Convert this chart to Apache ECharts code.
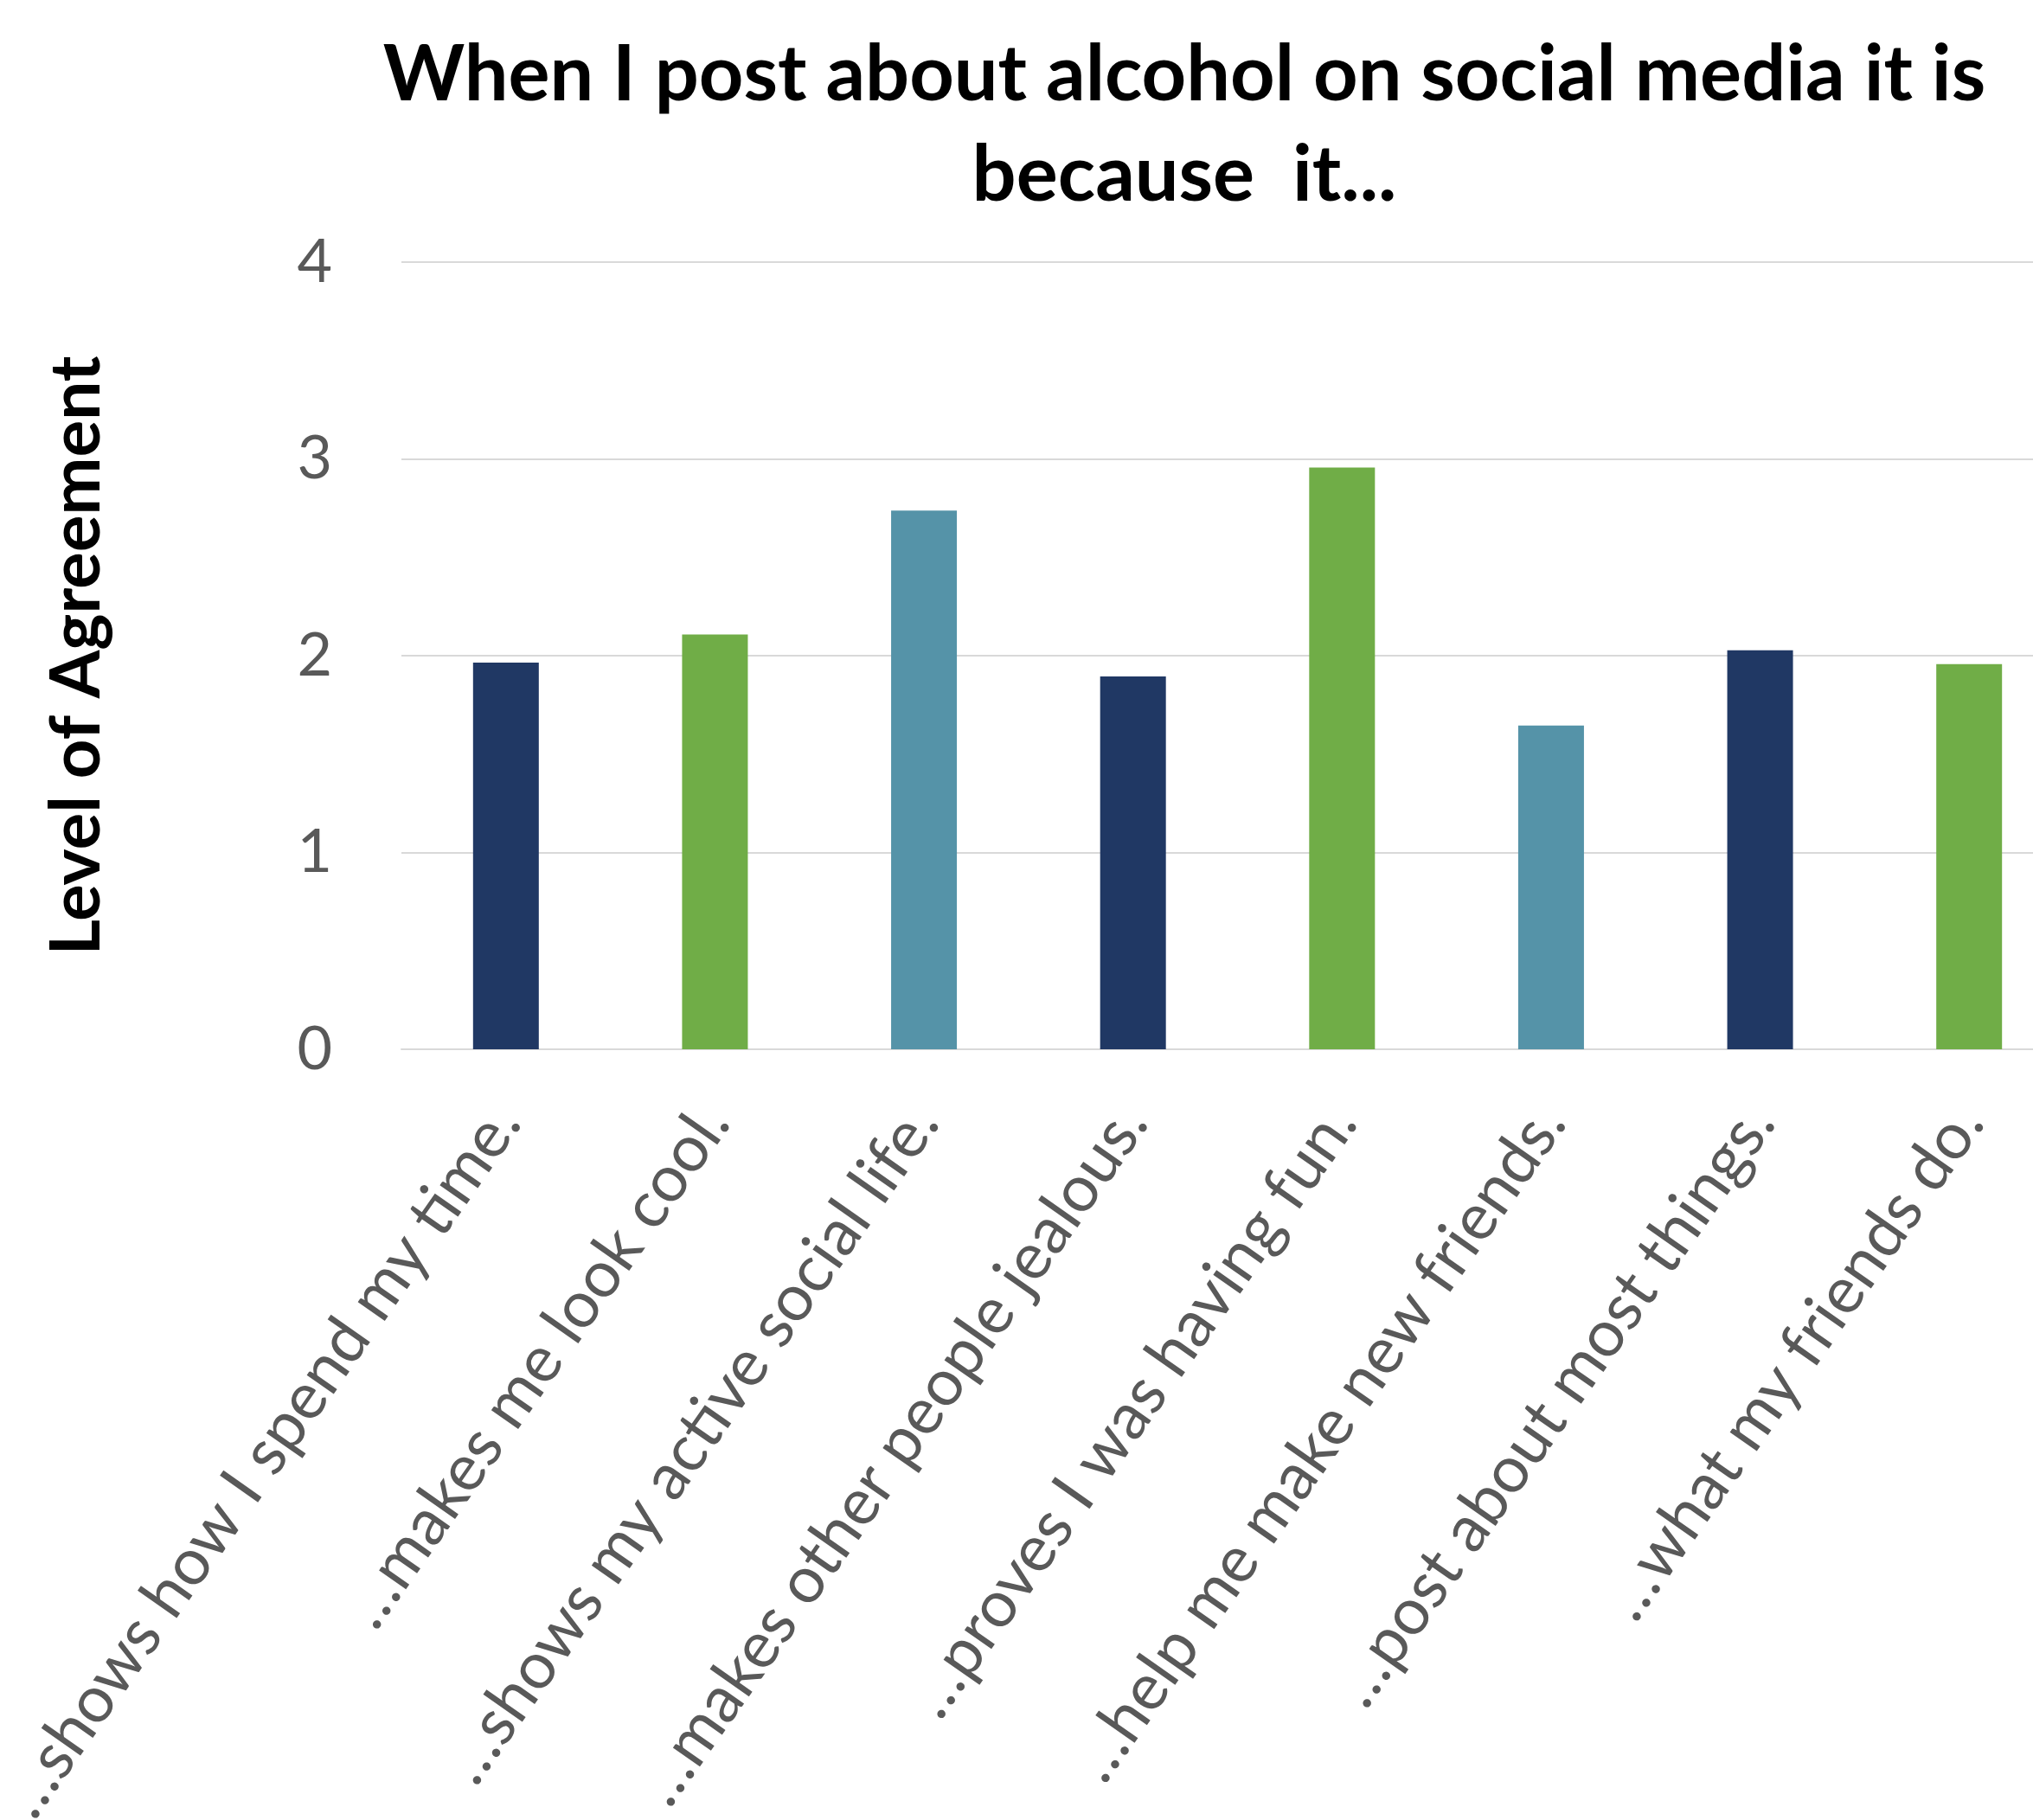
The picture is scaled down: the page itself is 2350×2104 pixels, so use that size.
<!DOCTYPE html>
<html>
<head>
<meta charset="utf-8">
<script src="https://cdn.jsdelivr.net/npm/echarts@6/dist/echarts.min.js"></script>
<style>
  html, body { margin: 0; padding: 0; background: #ffffff; }
  #chart { width: 2350px; height: 2104px; }
</style>
</head>
<body>
<div id="chart"></div>
<script>
// reasons given for posting about alcohol
var categories = [
  '\u2026shows how I spend my time.',
  '\u2026makes me look cool.',
  '\u2026shows my active social life.',
  '\u2026makes other people jealous.',
  '\u2026proves I was having fun.',
  '\u2026help me make new friends.',
  '\u2026post about most things.',
  '\u2026what my friends do.'
];
var agreement = [1.965, 2.108, 2.737, 1.895, 2.956, 1.645, 2.027, 1.957];
var yTicks = [0, 1, 2, 3, 4];

// bar colours repeat navy / green / teal
var palette = ['#203864', '#70AD47', '#5593A8'];

var chart = echarts.init(document.getElementById('chart'), null, { renderer: 'canvas' });

var option = {
  backgroundColor: '#ffffff',
  animation: false,
  textStyle: { fontFamily: 'Lato, "Open Sans", sans-serif' },
  title: {
    text: 'When I post about alcohol on social media it is\nbecause  it...',
    left: 1364,
    top: 24,
    textAlign: 'center',
    textStyle: {
      fontSize: 90,
      fontWeight: 'bold',
      color: '#000000',
      lineHeight: 116,
      fontFamily: 'Lato, sans-serif'
    }
  },
  grid: {
    left: 464,
    top: 303,
    width: 1933,
    bottom: 891,
    containLabel: false,
    outerBoundsMode: 'none'
  },
  xAxis: {
    type: 'category',
    data: categories,
    axisLine: { show: true, lineStyle: { color: '#d9d9d9', width: 2 } },
    axisTick: { show: false },
    axisLabel: {
      rotate: 55,
      margin: 72,
      interval: 0,
      fontSize: 75,
      color: '#595959'
    }
  },
  yAxis: {
    type: 'value',
    min: yTicks[0],
    max: yTicks[yTicks.length - 1],
    interval: 1,
    name: 'Level of Agreement',
    nameLocation: 'middle',
    nameGap: 335,
    nameTextStyle: {
      fontSize: 80,
      fontWeight: 'bold',
      color: '#000000'
    },
    axisLine: { show: false },
    axisTick: { show: false },
    splitLine: { lineStyle: { color: '#d9d9d9', width: 2 } },
    axisLabel: {
      fontSize: 70,
      color: '#595959',
      margin: 80
    }
  },
  series: [{
    type: 'bar',
    barWidth: 76,
    data: agreement.map(function (v, i) {
      return { value: v, itemStyle: { color: palette[i % palette.length] } };
    })
  }]
};

chart.setOption(option);
</script>
</body>
</html>
